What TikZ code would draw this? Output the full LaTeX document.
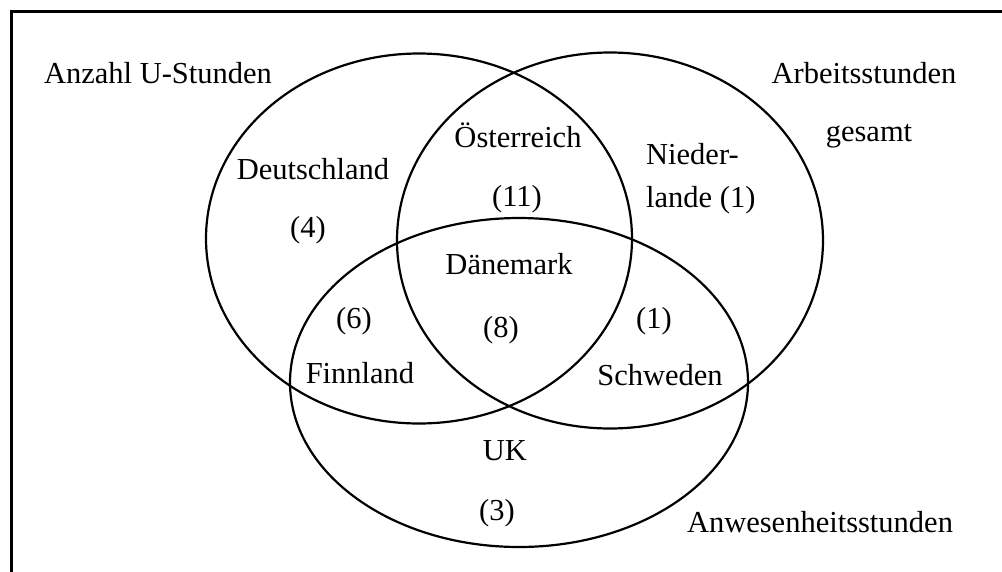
\documentclass[tikz,border=0pt]{standalone}
\usepackage{fontspec}
\setmainfont{Liberation Serif}
\begin{document}
\begin{tikzpicture}[x=1pt,y=-1pt,
  lbl/.style={inner sep=0pt,anchor=base,font=\fontsize{30.5}{36}\selectfont},
  lblw/.style={lbl,anchor=base west},
  setline/.style={line width=2.2pt},
  frameline/.style={line width=3pt}]
\useasboundingbox (0,0) rectangle (1002,571);
% frame (partially cropped)
\draw[frameline] (11.5,575) -- (11.5,11.5) -- (1006,11.5);
% sets
\coordinate (cA) at (419,238.5);
\coordinate (cB) at (610,240.5);
\coordinate (cC) at (519,382.5);
\draw[setline] (cA) ellipse [x radius=213, y radius=185];
\draw[setline] (cB) ellipse [x radius=213, y radius=188];
\draw[setline] (cC) ellipse [x radius=229, y radius=164.5];
% set labels
\node[lbl] (tA) at (158,83) {Anzahl U-Stunden};
\node[lbl] (tB1) at (864,83) {Arbeitsstunden};
\node[lbl] (tB2) at (869,141) {gesamt};
\node[lbl] (tC) at (820,532) {Anwesenheitsstunden};
% regions
\node[lbl] (de) at (313,179) {Deutschland};
\node[lbl] (den) at (308,237) {(4)};
\node[lbl] (at) at (518,147) {Österreich};
\node[lbl] (atn) at (517,206) {(11)};
\node[lblw] (nl1) at (646,164) {Nieder-};
\node[lblw] (nl2) at (646,207) {lande (1)};
\node[lbl] (dk) at (509,274) {Dänemark};
\node[lbl] (dkn) at (501,337) {(8)};
\node[lbl] (fin) at (354,328) {(6)};
\node[lbl] (fi) at (360,383) {Finnland};
\node[lbl] (sen) at (654,328) {(1)};
\node[lbl] (se) at (660,385) {Schweden};
\node[lbl] (uk) at (505,460) {UK};
\node[lbl] (ukn) at (497,520) {(3)};
\end{tikzpicture}
\end{document}
